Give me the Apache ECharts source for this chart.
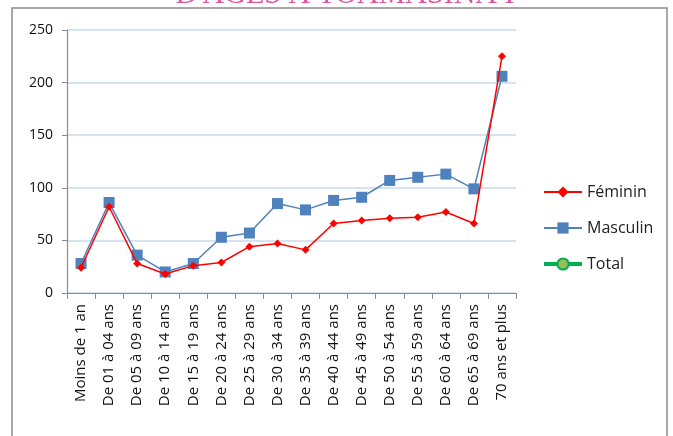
<!DOCTYPE html>
<html>
<head>
<meta charset="utf-8">
<script src="https://cdn.jsdelivr.net/npm/echarts@6/dist/echarts.min.js"></script>
<style>
  html, body { margin: 0; padding: 0; background: #fff; }
  #chart { width: 673px; height: 436px; }
</style>
</head>
<body>
<div id="chart"></div>
<script>
// tranches d'âge
const categories = [
  "Moins de 1 an", "De 01 à 04 ans", "De 05 à 09 ans", "De 10 à 14 ans",
  "De 15 à 19 ans", "De 20 à 24 ans", "De 25 à 29 ans", "De 30 à 34 ans",
  "De 35 à 39 ans", "De 40 à 44 ans", "De 45 à 49 ans", "De 50 à 54 ans",
  "De 55 à 59 ans", "De 60 à 64 ans", "De 65 à 69 ans", "70 ans et plus"
];
const feminin = [24, 82, 28, 18, 26, 29, 44, 47, 41, 66, 69, 71, 72, 77, 66, 225];
const masculin = [28, 86, 36, 20, 28, 53, 57, 85, 79, 88, 91, 107, 110, 113, 99, 206];
const total = []; // présent seulement dans la légende
const yTicks = { min: 0, max: 250, step: 50 };

const font = "Open Sans";
const chart = echarts.init(document.getElementById("chart"));

chart.setOption({
  animation: false,
  title: {
    text: "D'AGES A TOAMASINA I",
    left: 340,
    textAlign: "center",
    top: -25,
    textStyle: {
      fontFamily: "Liberation Serif",
      fontSize: 30,
      fontWeight: "normal",
      color: "#e0559e"
    }
  },
  graphic: [{
    type: "rect",
    shape: { x: 12, y: 8, width: 655, height: 460 },
    style: { fill: "none", stroke: "#8c8c8c", lineWidth: 1.5 },
    z: -1
  }],
  grid: { left: 67, right: 157, top: 30, bottom: 143 },
  legend: {
    orient: "vertical",
    left: 537,
    top: 179,
    itemWidth: 38,
    itemHeight: 14,
    itemGap: 20,
    textStyle: { fontFamily: font, fontSize: 16, color: "#222" },
    data: [
      "Féminin",
      "Masculin",
      { name: "Total", lineStyle: { width: 4, color: "#00b050" } }
    ]
  },
  xAxis: {
    type: "category",
    data: categories,
    boundaryGap: true,
    axisLine: { lineStyle: { color: "#8c8c8c", width: 1.2 } },
    axisTick: { show: true, length: 6, interval: 0, lineStyle: { color: "#8c8c8c" } },
    axisLabel: {
      interval: 0,
      rotate: 90,
      margin: 11,
      fontFamily: font,
      fontSize: 15,
      color: "#111"
    }
  },
  yAxis: {
    type: "value",
    min: yTicks.min,
    max: yTicks.max,
    interval: yTicks.step,
    axisLine: { show: true, lineStyle: { color: "#8c8c8c", width: 1.2 } },
    axisTick: { show: true, length: 5, lineStyle: { color: "#8c8c8c" } },
    axisLabel: { fontFamily: font, fontSize: 14, color: "#111", margin: 14 },
    splitLine: { lineStyle: { color: "#c9daed", width: 1.5 } }
  },
  series: [
    {
      name: "Féminin",
      type: "line",
      data: feminin,
      symbol: "diamond",
      symbolSize: 8,
      itemStyle: { color: "#ff0000" },
      lineStyle: { color: "#ff0000", width: 1.5 },
      z: 3
    },
    {
      name: "Masculin",
      type: "line",
      data: masculin,
      symbol: "rect",
      symbolSize: 11,
      itemStyle: { color: "#4f81bd" },
      lineStyle: { color: "#4f81bd", width: 1.5 },
      z: 2
    },
    {
      name: "Total",
      type: "line",
      data: total,
      symbol: "circle",
      symbolSize: 10,
      itemStyle: { color: "#9bbb59", borderColor: "#00b050", borderWidth: 1.5 },
      lineStyle: { color: "#00b050", width: 4 }
    }
  ]
});
</script>
</body>
</html>
